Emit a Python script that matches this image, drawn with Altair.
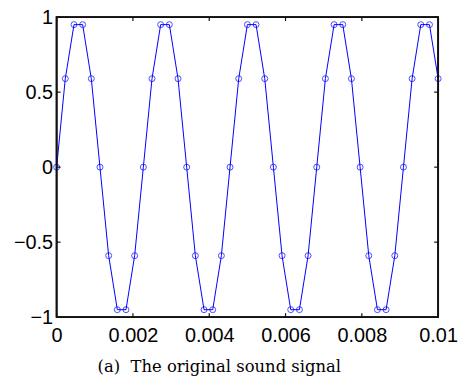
import altair as alt
import pandas as pd

# Sampled sound signal: time (s) and amplitude
time_s = [0.0, 0.000227, 0.000455, 0.000682, 0.000909, 0.001136, 0.001364, 0.001591,
          0.001818, 0.002045, 0.002273, 0.0025, 0.002727, 0.002955, 0.003182, 0.003409,
          0.003636, 0.003864, 0.004091, 0.004318, 0.004545, 0.004773, 0.005, 0.005227,
          0.005455, 0.005682, 0.005909, 0.006136, 0.006364, 0.006591, 0.006818, 0.007045,
          0.007273, 0.0075, 0.007727, 0.007955, 0.008182, 0.008409, 0.008636, 0.008864,
          0.009091, 0.009318, 0.009545, 0.009773, 0.01]
amplitude = [0, 0.59, 0.95, 0.95, 0.59, 0, -0.59, -0.95, -0.95, -0.59,
             0, 0.59, 0.95, 0.95, 0.59, 0, -0.59, -0.95, -0.95, -0.59,
             0, 0.59, 0.95, 0.95, 0.59, 0, -0.59, -0.95, -0.95, -0.59,
             0, 0.59, 0.95, 0.95, 0.59, 0, -0.59, -0.95, -0.95, -0.59,
             0, 0.59, 0.95, 0.95, 0.59]

x_ticks = [0, 0.002, 0.004, 0.006, 0.008, 0.01]
y_ticks = [-1, -0.5, 0, 0.5, 1]

W, H = 384, 302
X_MIN, X_MAX = 0.0, 0.01
Y_MIN, Y_MAX = -1.0, 1.0
BLUE = "#0000ff"
INK = "#111111"
LABEL_FONT = "Liberation Sans"

# inward tick length (px) expressed in data units
TL = 4
dx_tick = TL / W * (X_MAX - X_MIN)
dy_tick = TL / H * (Y_MAX - Y_MIN)

sig = pd.DataFrame({"t": time_s, "a": amplitude})

# box outline, traced corner to corner
box = pd.DataFrame({
    "t": [X_MIN, X_MAX, X_MAX, X_MIN, X_MIN],
    "a": [Y_MIN, Y_MIN, Y_MAX, Y_MAX, Y_MIN],
    "o": [0, 1, 2, 3, 4],
})

# short tick segments pointing into the box, one group per segment
seg_rows = []
for i, v in enumerate(x_ticks):
    seg_rows += [(f"b{i}", v, Y_MIN, 0), (f"b{i}", v, Y_MIN + dy_tick, 1),
                 (f"u{i}", v, Y_MAX, 0), (f"u{i}", v, Y_MAX - dy_tick, 1)]
for i, v in enumerate(y_ticks):
    seg_rows += [(f"l{i}", X_MIN, v, 0), (f"l{i}", X_MIN + dx_tick, v, 1),
                 (f"r{i}", X_MAX, v, 0), (f"r{i}", X_MAX - dx_tick, v, 1)]
segs = pd.DataFrame(seg_rows, columns=["g", "t", "a", "o"])

x_scale = alt.Scale(domain=[X_MIN, X_MAX], nice=False, zero=False)
y_scale = alt.Scale(domain=[Y_MIN, Y_MAX], nice=False, zero=False)

x_axis = alt.Axis(values=x_ticks, format=".3~f", title=None, grid=False, domain=False,
                  ticks=False, labelFont=LABEL_FONT, labelFontSize=20, labelColor="black",
                  labelPadding=8, labelFlush=False)
y_axis = alt.Axis(values=y_ticks, format="~g", title=None, grid=False, domain=False,
                  ticks=False, labelFont=LABEL_FONT, labelFontSize=20, labelColor="black",
                  labelPadding=4, minExtent=56, maxExtent=56)

line = alt.Chart(sig).mark_line(color=BLUE, strokeWidth=1).encode(
    x=alt.X("t:Q", scale=x_scale, axis=x_axis),
    y=alt.Y("a:Q", scale=y_scale, axis=y_axis),
)
pts = alt.Chart(sig).mark_point(shape="circle", filled=False, color=BLUE, size=36,
                                strokeWidth=1).encode(x="t:Q", y="a:Q")

frame = alt.Chart(box).mark_line(color=INK, strokeWidth=1.8, clip=False).encode(
    x="t:Q", y="a:Q", order="o:Q")
ticks = alt.Chart(segs).mark_line(color=INK, strokeWidth=1.2).encode(
    x="t:Q", y="a:Q", detail="g:N", order="o:Q")

panel = alt.layer(line, pts, ticks, frame).properties(width=W, height=H)

chart = alt.hconcat(panel).properties(
    padding={"left": 0, "top": 5, "right": 0, "bottom": 5},
    title=alt.TitleParams("(a)\u00a0\u00a0The original sound signal", orient="bottom",
                          anchor="middle", font="DejaVu Serif", fontSize=16.5,
                          fontWeight="normal", color="black", offset=13, dx=-10),
).configure_view(stroke=INK, strokeWidth=1.8)

chart.save("out.html", embed_options={"renderer": "svg", "actions": False})
